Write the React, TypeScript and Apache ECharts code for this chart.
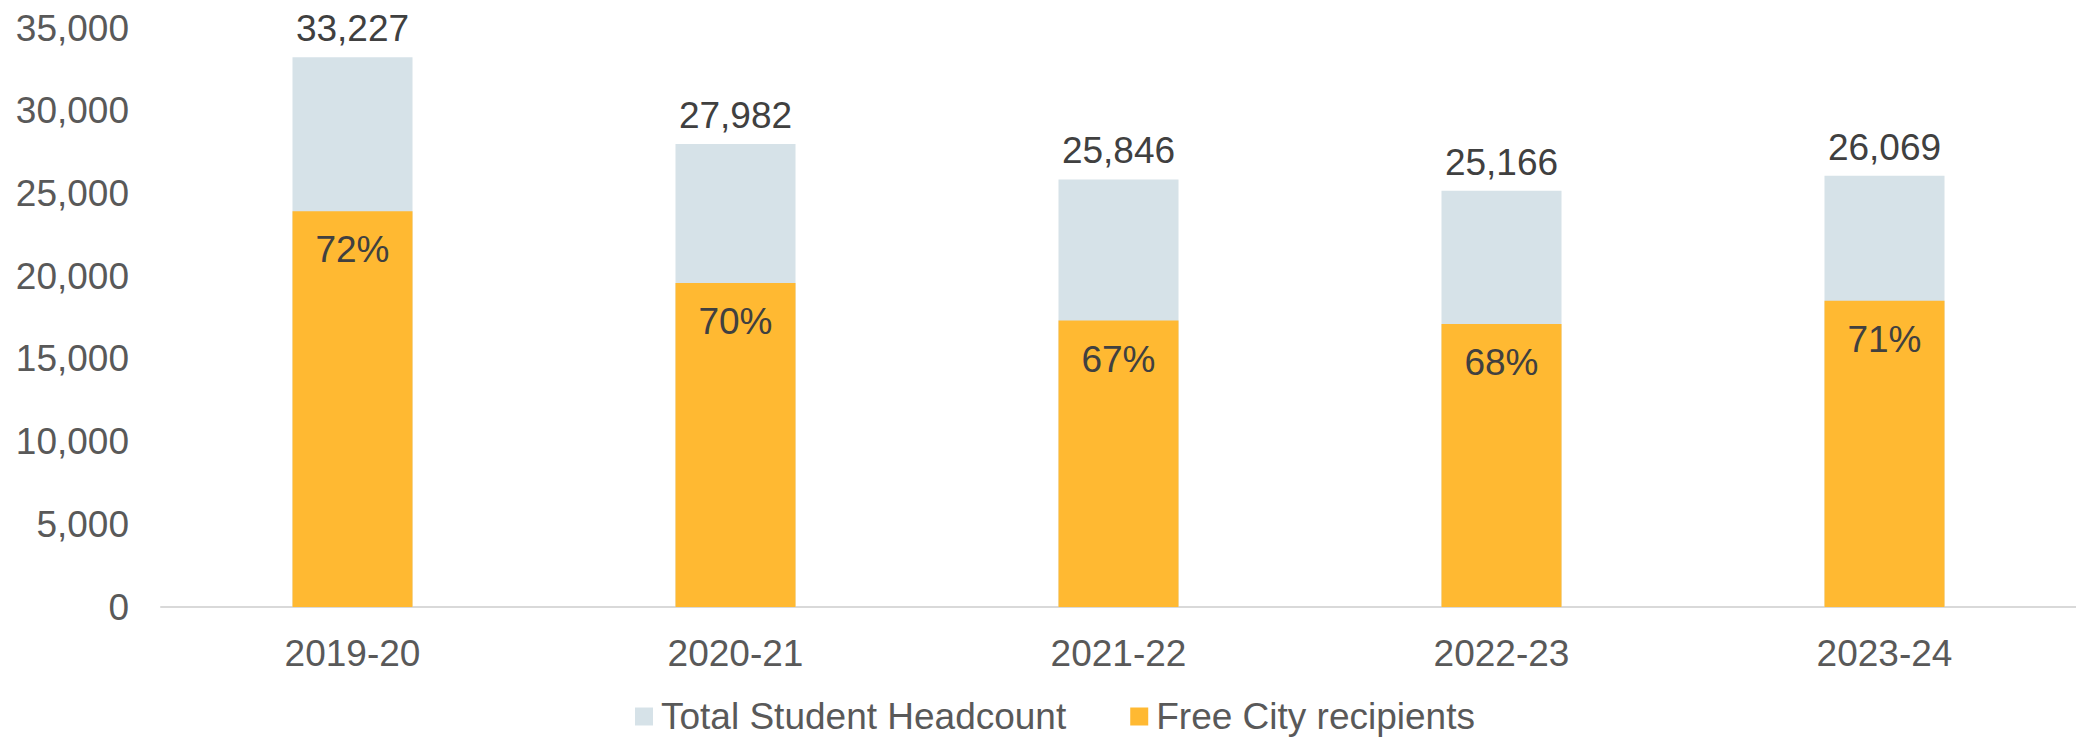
import React, { useEffect, useRef } from "react";
import * as echarts from "echarts";

const categories = ["2019-20", "2020-21", "2021-22", "2022-23", "2023-24"];
const totalHeadcount = [33227, 27982, 25846, 25166, 26069];
const freeCityRecipients = [23923, 19587, 17317, 17113, 18509];
const freeCityPct = ["72%", "70%", "67%", "68%", "71%"];

const FONT = "'Liberation Sans', Arial, sans-serif";

export default function App() {
  const ref = useRef<HTMLDivElement>(null);
  useEffect(() => {
    document.body.style.margin = "0";
    const chart = echarts.init(ref.current!, null, { renderer: "svg" });
    chart.setOption({
      animation: false,
      textStyle: { fontFamily: FONT },
      grid: { left: 161, right: 0, top: 28, bottom: 134 },
      legend: {
        left: 635,
        top: 698,
        itemWidth: 18,
        itemHeight: 18,
        itemGap: 64,
        icon: "rect",
        padding: 0,
        textStyle: { fontFamily: FONT, fontSize: 37, lineHeight: 36, color: "#595959", padding: [0, 0, 0, 3] },
        data: ["Total Student Headcount", "Free City recipients"],
      },
      xAxis: {
        type: "category",
        data: categories,
        axisLine: { lineStyle: { color: "#d9d9d9", width: 2 } },
        axisTick: { show: false },
        axisLabel: { fontFamily: FONT, fontSize: 37, color: "#595959", margin: 28 },
      },
      yAxis: {
        type: "value",
        min: 0,
        max: 35000,
        interval: 5000,
        splitLine: { show: false },
        axisLine: { show: false },
        axisTick: { show: false },
        axisLabel: {
          fontFamily: FONT,
          fontSize: 37,
          color: "#595959",
          margin: 32,
          formatter: (v: number) => v.toLocaleString("en-US"),
        },
      },
      series: [
        {
          name: "Total Student Headcount",
          type: "bar",
          data: totalHeadcount,
          barWidth: 120,
          barGap: "-100%",
          itemStyle: { color: "#d6e2e8" },
          label: {
            show: true,
            position: "top",
            distance: 10,
            fontFamily: FONT,
            fontSize: 37,
            color: "#404040",
            formatter: (p: any) => Number(p.value).toLocaleString("en-US"),
          },
        },
        {
          name: "Free City recipients",
          type: "bar",
          data: freeCityRecipients,
          barWidth: 120,
          barGap: "-100%",
          itemStyle: { color: "#ffb932" },
          label: {
            show: true,
            position: "insideTop",
            distance: 20,
            fontFamily: FONT,
            fontSize: 37,
            color: "#404040",
            formatter: (p: any) => freeCityPct[p.dataIndex],
          },
        },
      ],
    });
    return () => chart.dispose();
  }, []);
  return <div ref={ref} style={{ width: 2076, height: 741 }} />;
}
